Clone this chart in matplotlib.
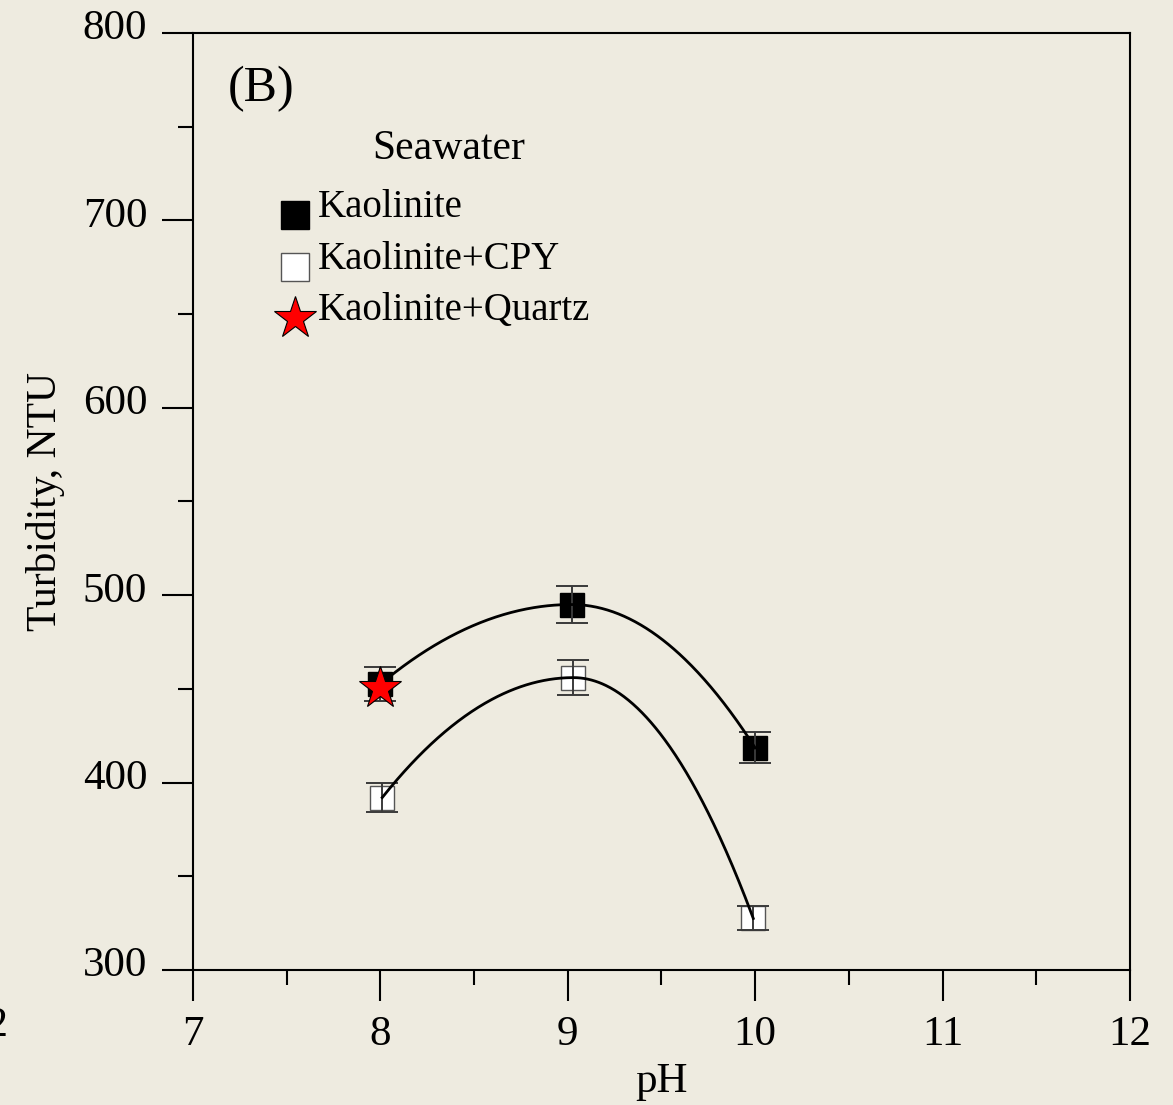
import numpy as np
import matplotlib.pyplot as plt
import matplotlib.transforms as mtrans
from matplotlib.ticker import MultipleLocator

plt.rcParams['font.family'] = ['Liberation Serif', 'DejaVu Serif']

bg = '#EEEBE0'

# data
ph = [8.0, 9.02, 10.0]
kao = [452.5, 495.0, 418.5]
kao_err = [9.0, 10.0, 8.3]

ph_cpy = [8.01, 9.03, 9.99]
kao_cpy = [392.0, 456.0, 327.5]
kao_cpy_err = [7.7, 9.3, 6.4]

ph_qtz = [8.0]
kao_qtz = [450.5]


def peak_curve(x, y, n=200):
    # smooth connector through the points, flat at the highest point
    x = np.asarray(x)
    y = np.asarray(y)
    k = int(np.argmax(y))
    xs, ys = [], []
    for i in range(len(x) - 1):
        t = np.linspace(x[i], x[i + 1], n)
        end = i if i < k else i + 1
        ys.append(y[k] + (y[end] - y[k]) * ((t - x[k]) / (x[end] - x[k])) ** 2)
        xs.append(t)
    return np.concatenate(xs), np.concatenate(ys)


fig = plt.figure(figsize=(11.73, 11.05), dpi=100, facecolor=bg)
ax = fig.add_axes([0.1645, 0.1222, 0.7988, 0.8480], facecolor=bg)

# markers
ax.plot(ph, kao, 's', color='black', markersize=17, zorder=2)
ax.plot(ph_cpy, kao_cpy, 's', markerfacecolor='white', markeredgecolor='#555555',
        markeredgewidth=1.0, markersize=17, zorder=2)

# error bars over the markers
ax.errorbar(ph, kao, yerr=kao_err, fmt='none', ecolor='#3a3a3a', elinewidth=1.4,
            capsize=11.5, capthick=1.4, zorder=3)
ax.errorbar(ph_cpy, kao_cpy, yerr=kao_cpy_err, fmt='none', ecolor='#3a3a3a', elinewidth=1.4,
            capsize=11.5, capthick=1.4, zorder=3)

# smooth connectors
cx, cy = peak_curve(ph, kao)
ax.plot(cx, cy, color='black', linewidth=2.0, zorder=3)
cx, cy = peak_curve(ph_cpy, kao_cpy)
ax.plot(cx, cy, color='black', linewidth=2.0, zorder=3)

ax.plot(ph_qtz, kao_qtz, '*', markerfacecolor='red', markeredgecolor='black',
        markeredgewidth=0.8, markersize=32, zorder=5)

ax.set_xlim(7, 12)
ax.set_ylim(300, 800)
ax.xaxis.set_major_locator(MultipleLocator(1))
ax.xaxis.set_minor_locator(MultipleLocator(0.5))
ax.yaxis.set_major_locator(MultipleLocator(100))
ax.yaxis.set_minor_locator(MultipleLocator(50))
ax.tick_params(which='major', direction='out', length=22, width=1.5, labelsize=31, pad=11)
ax.tick_params(which='minor', direction='out', length=11, width=1.5)
ax.tick_params(top=False, right=False, which='both')
for s in ax.spines.values():
    s.set_linewidth(1.5)

# y tick labels sit a little above their ticks
shift = mtrans.ScaledTranslation(0, 6 / 72, fig.dpi_scale_trans)
for lab in ax.get_yticklabels():
    lab.set_transform(lab.get_transform() + shift)

ax.set_xlabel('pH', fontsize=31, labelpad=6)
ax.set_ylabel('Turbidity, NTU', fontsize=30, labelpad=13)

# panel tag and legend block
ax.text(0.037, 0.94, '(B)', transform=ax.transAxes, fontsize=36, va='center', ha='left')
ax.text(0.191, 0.876, 'Seawater', transform=ax.transAxes, fontsize=30, va='center', ha='left')

leg_y = [0.806, 0.750, 0.696]
ax.plot(0.109, leg_y[0], 's', color='black', markersize=20, transform=ax.transAxes, clip_on=False)
ax.plot(0.109, leg_y[1], 's', markerfacecolor='white', markeredgecolor='#555555',
        markeredgewidth=1.0, markersize=20, transform=ax.transAxes, clip_on=False)
ax.plot(0.109, leg_y[2], '*', markerfacecolor='red', markeredgecolor='black',
        markeredgewidth=0.8, markersize=32, transform=ax.transAxes, clip_on=False)
labels = ['Kaolinite', 'Kaolinite+CPY', 'Kaolinite+Quartz']
for yy, lab in zip(leg_y, labels):
    ax.text(0.133, yy + 0.008, lab, transform=ax.transAxes, fontsize=28, va='center', ha='left')

# clipped tick label from the neighbouring panel
fig.text(0.007, 1 - 1026 / 1105, '12', fontsize=31, ha='right', va='center')

fig.savefig('out.png', dpi=100, facecolor=bg)
